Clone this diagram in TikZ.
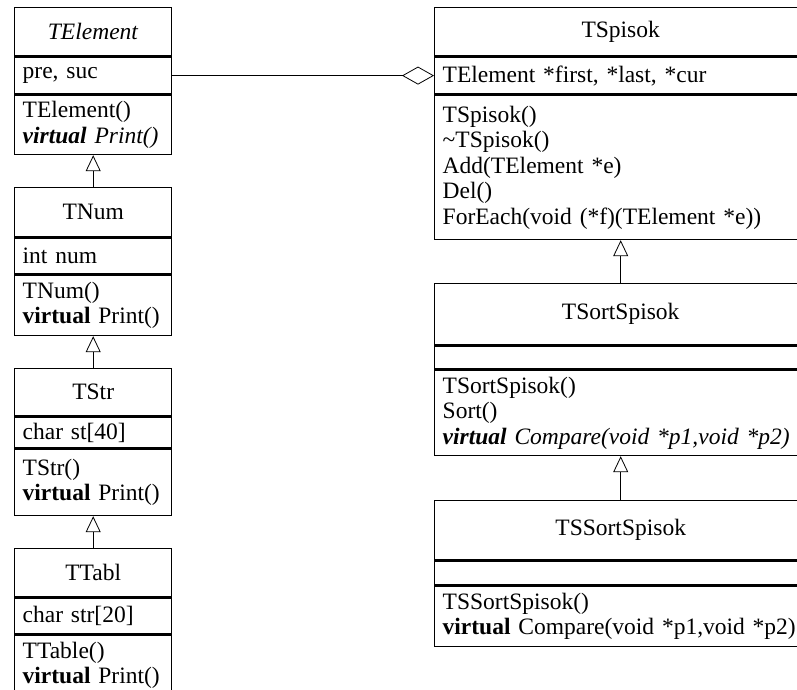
\documentclass[tikz,border=0pt]{standalone}
\usepackage{fontspec}
\setmainfont{Liberation Serif}
\usetikzlibrary{arrows.meta}

\tikzset{
  cls/.style={draw, line width=1.4pt, anchor=north west, inner ysep=0pt},
  head/.style={cls, align=center},
  comp/.style={cls, inner xsep=8pt, align=left},
  gen/.style={-{Triangle[open,length=16pt,width=15pt]}, line width=0.8pt},
  aggr/.style={{Diamond[open,length=32pt,width=18pt]}-, line width=0.8pt},
}

\begin{document}
\begin{tikzpicture}[x=1pt, y=-1pt, font=\fontsize{23.5pt}{25.5pt}\selectfont]
				%%%%% START %%%%%
				\def\xl{14}
				\def\wl{157}
				\def\xr{434}
				\def\wr{372}
				\clip (0,0) rectangle (797,690);

				% left column
				\node[head, minimum width=\wl, minimum height=48] (elHead) at (\xl,7) {\textit{TElement}};
				\node[comp, minimum width=\wl, minimum height=37, text width=\wl-16] (elAttr) at (elHead.south west) {pre, suc};
				\node[comp, minimum width=\wl, minimum height=59, text width=\wl-16] (elOps) at (elAttr.south west) {TElement()\\\mbox{\textbf{\textit{virtual}} \textit{Print()}}};

				\node[head, minimum width=\wl, minimum height=49] (numHead) at (\xl,187) {TNum};
				\node[comp, minimum width=\wl, minimum height=36, text width=\wl-16] (numAttr) at (numHead.south west) {int num};
				\node[comp, minimum width=\wl, minimum height=60, text width=\wl-16] (numOps) at (numAttr.south west) {TNum()\\\mbox{\textbf{virtual} Print()}};

				\node[head, minimum width=\wl, minimum height=47] (strHead) at (\xl,368) {TStr};
				\node[comp, minimum width=\wl, minimum height=31, text width=\wl-16] (strAttr) at (strHead.south west) {char st[40]};
				\node[comp, minimum width=\wl, minimum height=66, text width=\wl-16] (strOps) at (strAttr.south west) {TStr()\\\mbox{\textbf{virtual} Print()}};

				\node[head, minimum width=\wl, minimum height=48] (tabHead) at (\xl,548) {TTabl};
				\node[comp, minimum width=\wl, minimum height=36, text width=\wl-16] (tabAttr) at (tabHead.south west) {char str[20]};
				\node[comp, minimum width=\wl, minimum height=60, text width=\wl-16] (tabOps) at (tabAttr.south west) {TTable()\\\mbox{\textbf{virtual} Print()}};

				% right column
				\node[head, minimum width=\wr, minimum height=48] (spHead) at (\xr,7) {TSpisok};
				\node[comp, minimum width=\wr, minimum height=37, text width=\wr-16] (spAttr) at (spHead.south west) {TElement *first, *last, *cur};
				\node[comp, minimum width=\wr, minimum height=144, text width=\wr-16] (spOps) at (spAttr.south west) {TSpisok()\\\textasciitilde TSpisok()\\Add(TElement *e)\\Del()\\\mbox{ForEach(void (*f)(TElement *e))}};

				\node[head, minimum width=\wr, minimum height=61] (sortHead) at (\xr,283) {TSortSpisok};
				\node[comp, minimum width=\wr, minimum height=23, text width=\wr-16] (sortAttr) at (sortHead.south west) {};
				\node[comp, minimum width=\wr, minimum height=85, text width=\wr-16] (sortOps) at (sortAttr.south west) {TSortSpisok()\\Sort()\\\mbox{\textbf{\textit{virtual}} \textit{Compare(void *p1,void *p2)}}};

				\node[head, minimum width=\wr, minimum height=59] (ssHead) at (\xr,500) {TSSortSpisok};
				\node[comp, minimum width=\wr, minimum height=24, text width=\wr-16] (ssAttr) at (ssHead.south west) {};
				\node[comp, minimum width=\wr, minimum height=60, text width=\wr-16] (ssOps) at (ssAttr.south west) {TSSortSpisok()\\\mbox{\textbf{virtual} Compare(void *p1,void *p2)}};

				% links
				\draw[gen] (numHead.north) -- (elOps.south);
				\draw[gen] (strHead.north) -- (numOps.south);
				\draw[gen] (tabHead.north) -- (strOps.south);
				\draw[gen] (sortHead.north) -- (spOps.south);
				\draw[gen] (ssHead.north) -- (sortOps.south);
				\draw[aggr] (spAttr.west) -- (elAttr.east);
				%%%%% START %%%%%
\end{tikzpicture}
\end{document}
